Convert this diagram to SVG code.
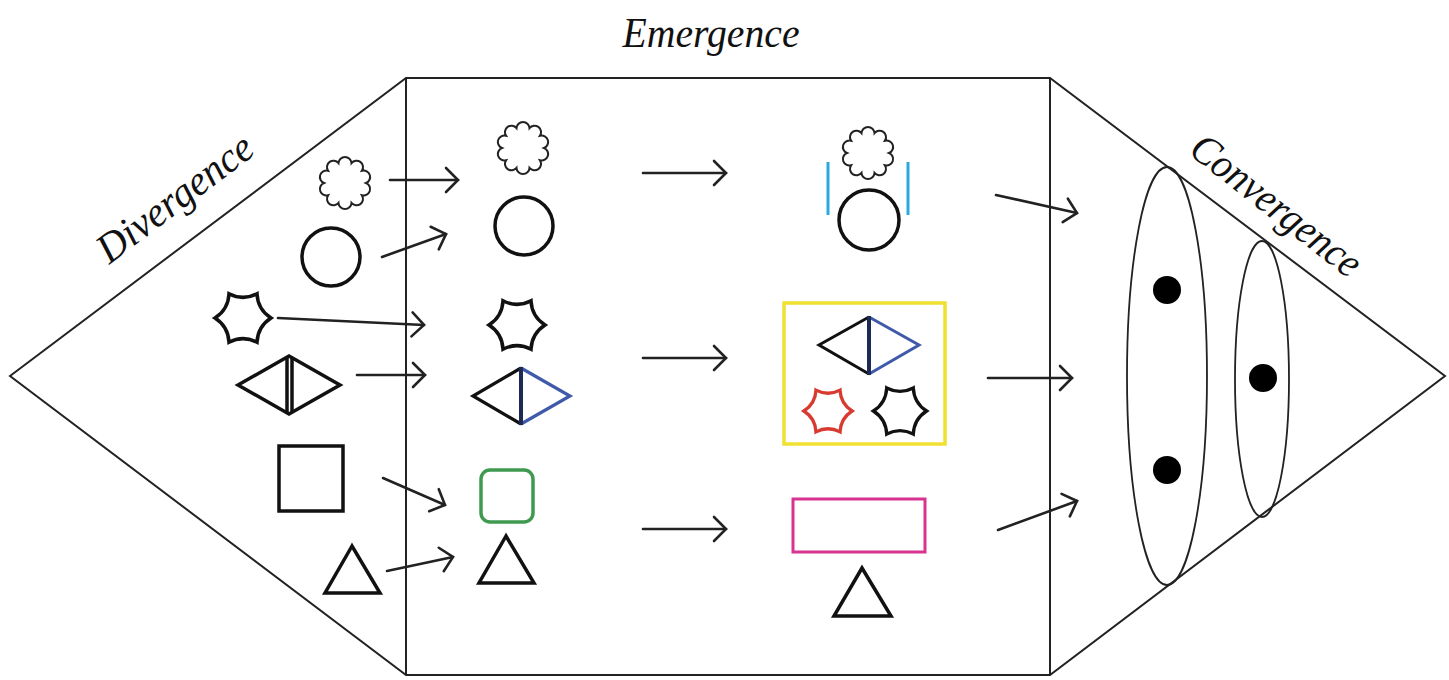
<svg xmlns="http://www.w3.org/2000/svg" xmlns:xlink="http://www.w3.org/1999/xlink" width="1449" height="680" viewBox="0 0 1449 680">
<style>
.outline{fill:none;stroke:#222;stroke-width:2}
.title{font-family:"Liberation Serif","DejaVu Serif",serif;font-style:italic;font-size:42px;fill:#111}
.flw{fill:none;stroke:#222;stroke-width:2}
.blk{fill:none;stroke:#111;stroke-width:3.5;stroke-linejoin:miter}
.conn line{stroke:#222;stroke-width:2.6;stroke-linecap:round}
.ell{fill:none;stroke:#222;stroke-width:1.8}
.dot{fill:#000}
</style>
<defs>
<marker id="arr" viewBox="0 0 30 30" refX="15" refY="15" markerWidth="30" markerHeight="30" markerUnits="userSpaceOnUse" orient="auto">
<path d="M3,3 L15,15 L3,27" fill="none" stroke="#222" stroke-width="2.6" stroke-linecap="round" stroke-linejoin="miter"/>
</marker>
<path id="flower" d="M21,0 A6.5,6.5 0 0 1 16.99,12.34 A6.5,6.5 0 0 1 6.49,19.97 A6.5,6.5 0 0 1 -6.49,19.97 A6.5,6.5 0 0 1 -16.99,12.34 A6.5,6.5 0 0 1 -21,0 A6.5,6.5 0 0 1 -16.99,-12.34 A6.5,6.5 0 0 1 -6.49,-19.97 A6.5,6.5 0 0 1 6.49,-19.97 A6.5,6.5 0 0 1 16.99,-12.34 A6.5,6.5 0 0 1 21,0 Z"/>
<path id="star" d="M28,0 Q14.72,8.5 14,24.25 Q0,17 -14,24.25 Q-14.72,8.5 -28,0 Q-14.72,-8.5 -14,-24.25 Q0,-17 14,-24.25 Q14.72,-8.5 28,0 Z"/>
</defs>
<rect width="1449" height="680" fill="#fff"/>

<g id="frame">
<polygon class="outline" points="10,376 406,78 1050,78 1445,376 1050,675 406,675"/>
<line class="outline" x1="406" y1="78" x2="406" y2="675"/>
<line class="outline" x1="1050" y1="78" x2="1050" y2="675"/>
</g>

<g id="labels">
<text class="title" x="711" y="47" text-anchor="middle" textLength="177" lengthAdjust="spacingAndGlyphs">Emergence</text>
<text class="title" x="183" y="209" text-anchor="middle" textLength="185" lengthAdjust="spacingAndGlyphs" transform="rotate(-37 183 209)">Divergence</text>
<text class="title" x="1268" y="216" text-anchor="middle" textLength="205" lengthAdjust="spacingAndGlyphs" transform="rotate(38 1268 216)">Convergence</text>
</g>

<g id="div-flower"><use href="#flower" class="flw" transform="translate(345,183)"/></g>
<g id="div-circle"><circle class="blk" cx="331" cy="257" r="29"/></g>
<g id="div-star"><use href="#star" class="blk" transform="translate(243,318)"/></g>
<g id="div-diamond">
<polygon class="blk" points="238,385 289,356 340,385 289,414"/>
<line class="blk" x1="287" y1="357" x2="287" y2="413"/>
<line class="blk" x1="292" y1="358" x2="292" y2="412"/>
</g>
<g id="div-square"><rect class="blk" x="279" y="446" width="64" height="65"/></g>
<g id="div-triangle"><polygon class="blk" points="352,546 325,593 380,593"/></g>

<g id="em-flower"><use href="#flower" class="flw" transform="translate(523,148)"/></g>
<g id="em-circle"><circle class="blk" cx="524" cy="226" r="29"/></g>
<g id="em-star"><use href="#star" class="blk" transform="translate(517,325)"/></g>
<g id="em-diamond">
<polyline points="521,368 473,396 521,424" fill="none" stroke="#111" stroke-width="3.2"/>
<polyline points="521,368 570,396 521,424" fill="none" stroke="#3f5aa8" stroke-width="3.2"/>
<line x1="521" y1="367" x2="521" y2="425" stroke="#1d2a55" stroke-width="4"/>
</g>
<g id="em-rounded-square"><rect x="481" y="470" width="52" height="52" rx="9" fill="none" stroke="#3f9a50" stroke-width="3.5"/></g>
<g id="em-triangle"><polygon class="blk" points="506,536 479,583 534,583"/></g>

<g id="out-flower-circle">
<use href="#flower" class="flw" transform="translate(868,153)"/>
<circle class="blk" cx="869" cy="220" r="30"/>
<line x1="828" y1="162" x2="828" y2="215" stroke="#29a9e0" stroke-width="3"/>
<line x1="908" y1="162" x2="908" y2="215" stroke="#29a9e0" stroke-width="3"/>
</g>
<g id="out-group">
<rect x="784" y="303" width="161" height="141" fill="none" stroke="#f0e030" stroke-width="3.5"/>
<polyline points="869,317 819,345 869,374" fill="none" stroke="#111" stroke-width="3"/>
<polyline points="869,317 919,345 869,374" fill="none" stroke="#3f5aa8" stroke-width="3"/>
<line x1="869" y1="316" x2="869" y2="375" stroke="#1d2a55" stroke-width="4"/>
<use href="#star" fill="none" stroke="#d93a2f" stroke-width="3.8" transform="translate(828,411) scale(0.86)"/>
<use href="#star" class="blk" transform="translate(900,411) scale(0.95)"/>
</g>
<g id="out-rect-triangle">
<rect x="793" y="499" width="132" height="53" fill="none" stroke="#d93391" stroke-width="3"/>
<polygon class="blk" points="862,568 834,616 891,616"/>
</g>

<g id="convergence">
<ellipse class="ell" cx="1167" cy="376" rx="40" ry="209"/>
<ellipse class="ell" cx="1262" cy="379" rx="27" ry="138"/>
<circle class="dot" cx="1167" cy="290" r="14"/>
<circle class="dot" cx="1167" cy="470" r="14"/>
<circle class="dot" cx="1263" cy="378" r="14"/>
</g>

<g id="connectors" class="conn">
<line x1="390" y1="180" x2="458" y2="180" marker-end="url(#arr)"/>
<line x1="382" y1="257" x2="446" y2="234" marker-end="url(#arr)"/>
<line x1="278" y1="318" x2="424" y2="325" marker-end="url(#arr)"/>
<line x1="357" y1="375" x2="425" y2="375" marker-end="url(#arr)"/>
<line x1="383" y1="478" x2="445" y2="505" marker-end="url(#arr)"/>
<line x1="387" y1="571" x2="453" y2="557" marker-end="url(#arr)"/>
<line x1="643" y1="173" x2="726" y2="173" marker-end="url(#arr)"/>
<line x1="643" y1="358" x2="726" y2="358" marker-end="url(#arr)"/>
<line x1="643" y1="529" x2="726" y2="529" marker-end="url(#arr)"/>
<line x1="996" y1="195" x2="1077" y2="213" marker-end="url(#arr)"/>
<line x1="988" y1="378" x2="1072" y2="378" marker-end="url(#arr)"/>
<line x1="998" y1="530" x2="1077" y2="501" marker-end="url(#arr)"/>
</g>
</svg>
